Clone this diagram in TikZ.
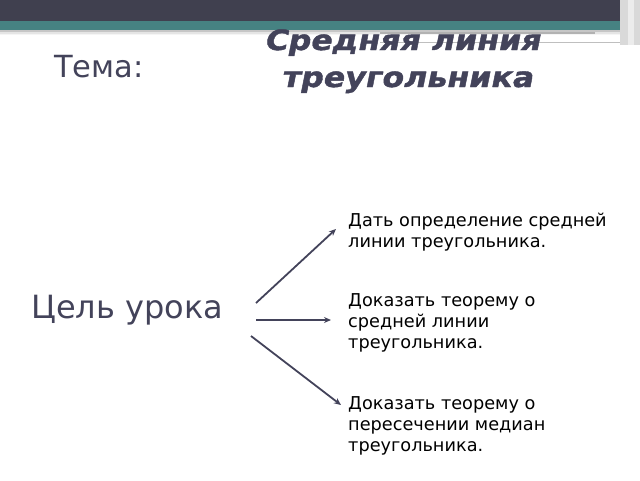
\documentclass[tikz,border=0pt]{standalone}
\usepackage{fontspec}
\setmainfont{DejaVu Sans}
\newfontfamily\titlefont{DejaVu Sans Bold}[FakeSlant=0.2,FakeStretch=1.13,FakeBold=1.5]
\usetikzlibrary{arrows.meta}
\definecolor{slate}{HTML}{43435A}
\definecolor{band}{HTML}{40404F}
\definecolor{teal}{HTML}{468282}

\begin{document}
\begin{tikzpicture}[x=1pt,y=-1pt,
    heading/.style={text=slate,inner sep=0pt},
    goaltext/.style={anchor=north west,align=left,inner sep=0pt,
      font=\fontsize{17.7}{21}\selectfont},
    goalarrow/.style={draw=slate,line width=1.8pt,-{Stealth[length=7pt,width=6pt]}}]
  \useasboundingbox (0,0) rectangle (640,480);
  % Header bands
  \fill[band] (0,0) rectangle (640,21);
  \fill[teal] (0,21) rectangle (640,30);
  \fill[gray!45] (0,30) rectangle (640,31.5);
  \fill[gray!20] (0,31.5) rectangle (640,33.5);
  \fill[gray!8] (0,33.5) rectangle (640,35);
  \draw[gray!60,line width=1.2pt] (380,33) -- (595,33);
  \draw[gray!50,line width=0.8pt] (380,42) -- (628,42);
  \fill[gray!30] (620,0) rectangle (640,45);
  \fill[gray!15] (628,0) rectangle (634,45);
  % Titles
  \node[heading,anchor=base west,font=\fontsize{30.5}{36}\selectfont] (theme) at (54,77) {Тема:};
  \node[heading,anchor=base,font=\fontsize{28}{37}\titlefont] (title1) at (402,50) {Средняя линия};
  \node[heading,anchor=base,font=\fontsize{28}{37}\titlefont] (title2) at (407,87) {треугольника};
  \node[heading,anchor=base west,font=\fontsize{32}{36}\selectfont] (goal) at (31,318) {Цель урока};
  % Goals
  \node[goaltext] (g1) at (348,213) {Дать определение средней\\линии треугольника.};
  \node[goaltext] (g2) at (348,293) {Доказать теорему о\\средней линии\\треугольника.};
  \node[goaltext] (g3) at (348,396) {Доказать теорему о\\пересечении медиан\\треугольника.};
  % Arrows
  \coordinate (a1) at (256,303);
  \coordinate (a2) at (256,320);
  \coordinate (a3) at (251,336);
  \coordinate (e1) at (336,229);
  \coordinate (e2) at (331,320);
  \coordinate (e3) at (341,405);
  \draw[goalarrow] (a1) -- (e1);
  \draw[goalarrow] (a2) -- (e2);
  \draw[goalarrow] (a3) -- (e3);
\end{tikzpicture}
\end{document}
